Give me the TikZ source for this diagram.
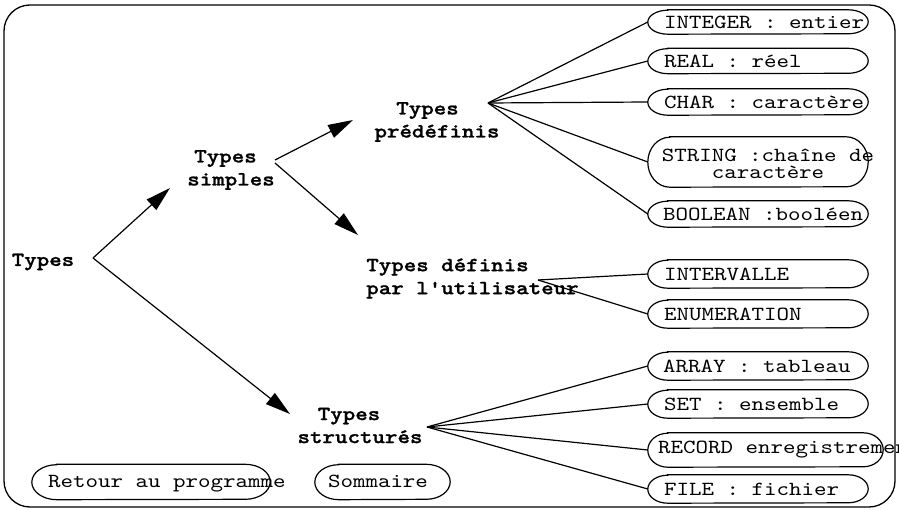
\documentclass[tikz,border=0pt]{standalone}
\usepackage{fontspec}
\setmonofont{lmmono10-regular.otf}[BoldFont=lmmonolt10-bold.otf, BoldFeatures={FakeBold=1.2}, FakeStretch=1.19]
\usetikzlibrary{arrows.meta,calc}
\newcommand\capsule[3]{%
  \draw[capline] ([xshift=#2]#1.north west) -- ([xshift=-#2]#1.north east)
    arc[start angle=90,end angle=-90,x radius=#2,y radius=#3]
    -- ([xshift=#2]#1.south west)
    arc[start angle=270,end angle=90,x radius=#2,y radius=#3] -- cycle;}
\newcommand\padr[1]{\rule{#1}{0pt}}
\tikzset{
  lbl/.style={font=\ttfamily\bfseries\fontsize{20}{23}\selectfont, inner sep=0pt, align=center},
  captext/.style={font=\ttfamily\fontsize{20}{16.5}\selectfont, inner sep=0pt, anchor=west},
  capbox/.style={rectangle, inner sep=0pt, minimum width=220pt},
  capline/.style={line width=1.2pt},
  conn/.style={line width=1.2pt},
  arr/.style={conn, -{Triangle[length=25pt,width=14pt]}},
  frame/.style={line width=1.3pt, rounded corners=26pt},
}
\begin{document}
\begin{tikzpicture}[x=1pt,y=-1pt]
\useasboundingbox (0,0) rectangle (899,510);
\clip (0,0) rectangle (899,510);
\draw[frame] (4,5) rectangle (895,507);

% labels
\node[lbl] (types) at (43,262) {Types};
\node[lbl] (simples) at (231,170) {Types\padr{11pt}\\simples};
\node[lbl] (predef) at (437,122) {Types\padr{19pt}\\prédéfinis};
\node[lbl, align=left] (userdef) at (472.5,278.5) {Types définis\\par l'utilisateur};
\node[lbl] (struct) at (360,425.5) {Types\padr{22pt}\\structurés};

% connector points
\coordinate (typesout) at (93,258);
\coordinate (simplestip) at (170,188);
\coordinate (structtip) at (290,414);
\coordinate (simplesout1) at (275,160);
\coordinate (simplesout2) at (275,163);
\coordinate (predeftip) at (353,120);
\coordinate (userdeftip) at (358,235);
\coordinate (predefout) at (488,103);
\coordinate (userdefout) at (538,280);
\coordinate (structout) at (427,427);

% capsules
\node[capbox, minimum height=24pt] (integer) at (758,22) {};
\node[capbox, minimum height=25pt] (real) at (758,61) {};
\node[capbox, minimum height=26pt] (char) at (758,102) {};
\node[capbox, minimum height=50pt] (string) at (758,162) {};
\node[capbox, minimum height=26pt] (boolean) at (758,214) {};
\node[capbox, minimum height=28pt] (intervalle) at (758,274) {};
\node[capbox, minimum height=28pt] (enum) at (758,314) {};
\node[capbox, minimum height=28pt] (array) at (758,366) {};
\node[capbox, minimum height=28pt] (set) at (758,404) {};
\node[capbox, minimum height=34pt, minimum width=235pt] (record) at (765.5,450) {};
\node[capbox, minimum height=28pt] (file) at (758,489) {};
\node[capbox, minimum height=35pt, minimum width=238pt] (retour) at (151,482) {};
\node[capbox, minimum height=35pt, minimum width=135pt] (sommaire) at (382.5,482) {};

\capsule{integer}{20pt}{12pt}
\capsule{real}{20pt}{12.5pt}
\capsule{char}{20pt}{13pt}
\capsule{string}{22pt}{25pt}
\capsule{boolean}{20pt}{13pt}
\capsule{intervalle}{20pt}{14pt}
\capsule{enum}{20pt}{14pt}
\capsule{array}{20pt}{14pt}
\capsule{set}{20pt}{14pt}
\capsule{record}{20pt}{17pt}
\capsule{file}{20pt}{14pt}
\capsule{retour}{25pt}{17.5pt}
\capsule{sommaire}{24pt}{17.5pt}

\node[captext] (tinteger) at (664,22) {INTEGER : entier};
\node[captext] (treal) at (664,61) {REAL : réel};
\node[captext] (tchar) at (664,102) {CHAR : caractère};
\node[captext, align=center, anchor=center] (tstring) at (768,164) {STRING :chaîne de\\caractère};
\node[captext] (tboolean) at (663,214) {BOOLEAN :booléen};
\node[captext] (tintervalle) at (664,274) {INTERVALLE};
\node[captext] (tenum) at (664,314) {ENUMERATION};
\node[captext] (tarray) at (663,366) {ARRAY : tableau};
\node[captext] (tset) at (664,404) {SET : ensemble};
\node[captext] (trecord) at (658,450) {RECORD enregistrement};
\node[captext] (tfile) at (664,489) {FILE : fichier};
\node[captext] (tretour) at (48,484) {Retour au programme};
\node[captext, anchor=center] (tsommaire) at (378,481) {Sommaire};

% arrows
\draw[arr] (typesout) -- (simplestip);
\draw[arr] (typesout) -- (structtip);
\draw[arr] (simplesout1) -- (predeftip);
\draw[arr] (simplesout2) -- (userdeftip);

% fans
\foreach \n in {integer,real,char,string,boolean}
  \draw[conn] (predefout) -- (\n.west);
\foreach \n in {intervalle,enum}
  \draw[conn] (userdefout) -- (\n.west);
\foreach \n in {array,set,record,file}
  \draw[conn] (structout) -- (\n.west);
\end{tikzpicture}
\end{document}
